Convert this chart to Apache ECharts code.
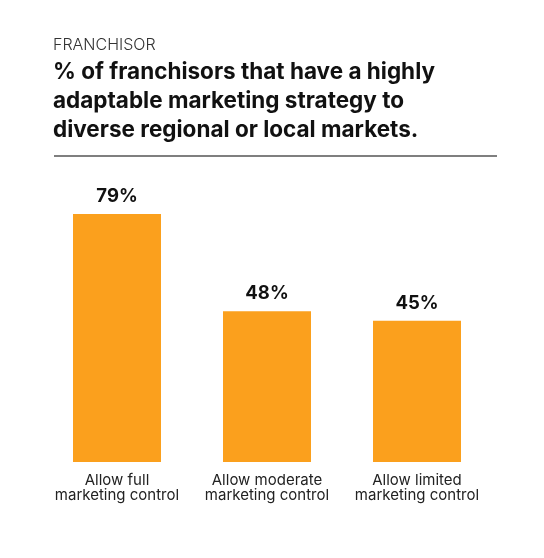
<!DOCTYPE html>
<html>
<head>
<meta charset="utf-8">
<script src="https://cdn.jsdelivr.net/npm/echarts@6/dist/echarts.min.js"></script>
<style>
  html, body { margin: 0; padding: 0; background: #fff; }
  #chart { width: 544px; height: 558px; }
</style>
</head>
<body>
<div id="chart"></div>
<script>
// share of franchisors by level of marketing control
var categories = ['Allow full\nmarketing control', 'Allow moderate\nmarketing control', 'Allow limited\nmarketing control'];
var values = [79, 48, 45];

var chart = echarts.init(document.getElementById('chart'));
var option = {
    backgroundColor: '#fff',
    title: [
        {
            text: 'FRANCHISOR',
            left: 53,
            top: 37,
            padding: 0,
            textStyle: {
                fontFamily: 'Inter',
                fontWeight: 300,
                fontSize: 16,
                color: '#333'
            }
        },
        {
            text: '% of franchisors that have a highly\nadaptable marketing strategy to\ndiverse regional or local markets.',
            left: 53,
            top: 58,
            padding: 0,
            textStyle: {
                fontFamily: 'Inter',
                fontWeight: 'bold',
                fontSize: 22.5,
                lineHeight: 29,
                color: '#111'
            }
        }
    ],
    graphic: [
        {
            type: 'line',
            shape: { x1: 54, y1: 156, x2: 497, y2: 156 },
            style: { stroke: '#555', lineWidth: 1.5 }
        }
    ],
    grid: {
        left: 42,
        right: 52,
        top: 148,
        bottom: 96
    },
    xAxis: {
        type: 'category',
        data: categories,
        axisLine: { show: false },
        axisTick: { show: false },
        axisLabel: {
            interval: 0,
            margin: 11,
            fontFamily: 'Inter',
            fontSize: 15,
            lineHeight: 15,
            color: '#222'
        }
    },
    yAxis: {
        type: 'value',
        min: 0,
        max: 100,
        show: false
    },
    series: [
        {
            type: 'bar',
            data: values,
            barWidth: 88,
            itemStyle: { color: '#FBA01D' },
            label: {
                show: true,
                position: 'top',
                distance: 8,
                formatter: '{c}%',
                fontFamily: 'Inter',
                fontWeight: 'bold',
                fontSize: 18.5,
                color: '#111'
            }
        }
    ]
};
chart.setOption(option);
window.onresize = function () {
    chart.resize();
};
</script>
</body>
</html>
